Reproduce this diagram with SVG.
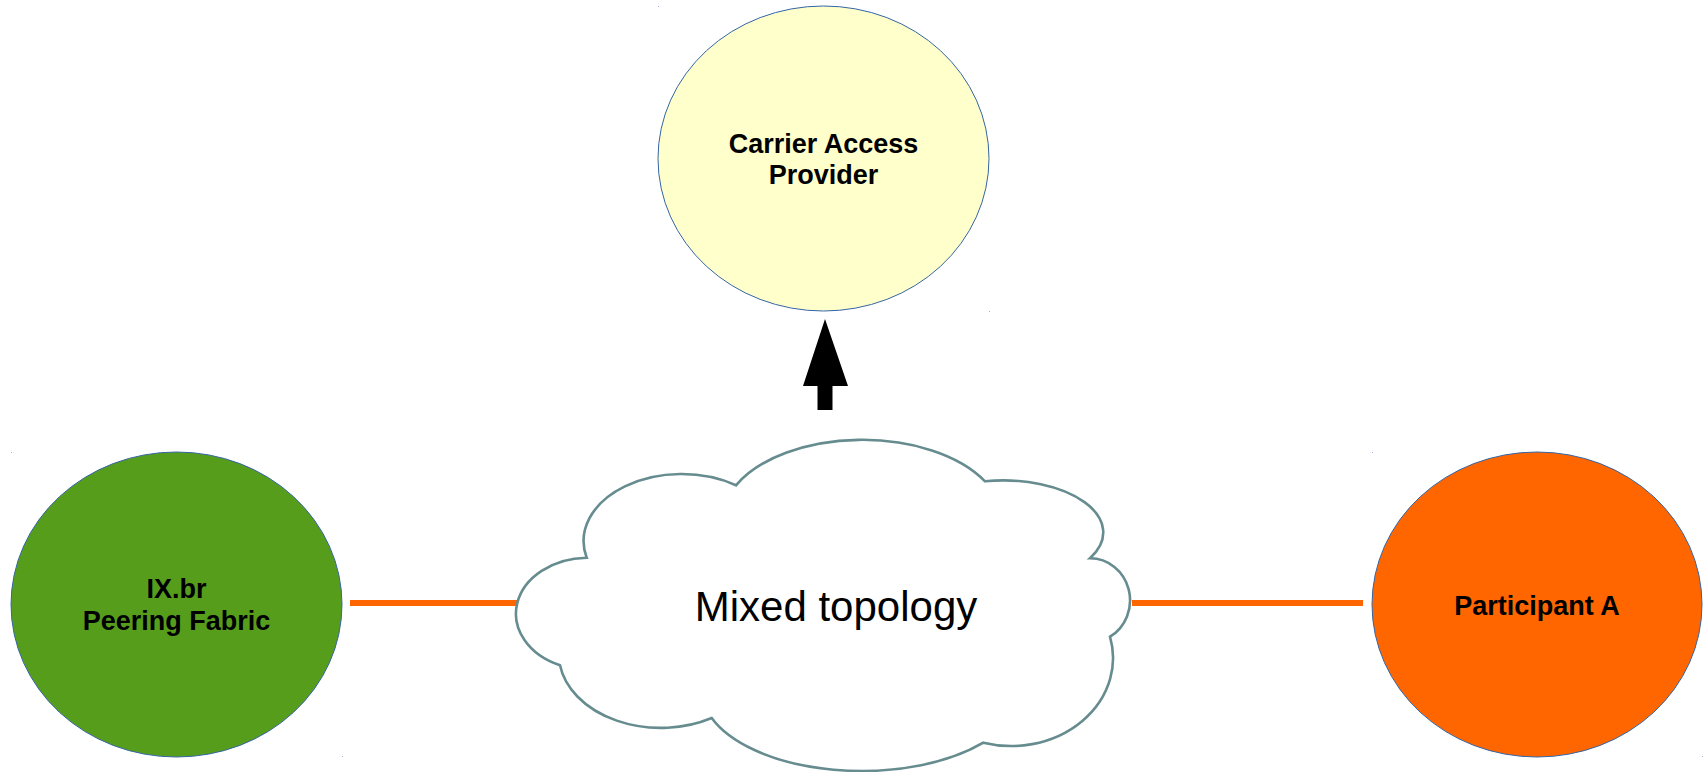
<svg xmlns="http://www.w3.org/2000/svg" width="1708" height="772" viewBox="0 0 1708 772">
<style>
.node{stroke:#3465a4;stroke-width:1}
.lbl{font-family:"Liberation Sans",Arial,sans-serif;font-weight:bold;font-size:27px;fill:#000;text-anchor:middle}
.cloudtxt{font-family:"Liberation Sans",Arial,sans-serif;font-size:42px;fill:#000;text-anchor:middle}
.link{stroke:#ff6600;stroke-width:6;fill:none}
.dot{fill:#9db4d6}
</style>
<rect width="1708" height="772" fill="#ffffff"/>
<g id="connectors">
<line class="link" x1="350" y1="603" x2="520" y2="603"/>
<line class="link" x1="1132" y1="603" x2="1363" y2="603"/>
<polygon points="825,319 848,386 832.5,386 832.5,410 817.5,410 817.5,386 803,386" fill="#000"/>
</g>
<g id="carrier">
<ellipse class="node" cx="823.5" cy="158.5" rx="165.5" ry="152.5" fill="#ffffcc"/>
<text class="lbl" x="823.5" y="153">Carrier Access</text>
<text class="lbl" x="823.5" y="184">Provider</text>
</g>
<g id="ixbr">
<ellipse class="node" cx="176.5" cy="604.5" rx="165.5" ry="152.5" fill="#579d1c"/>
<text class="lbl" x="176.5" y="598">IX.br</text>
<text class="lbl" x="176.5" y="630">Peering Fabric</text>
</g>
<g id="participant">
<ellipse class="node" cx="1537" cy="604.5" rx="165" ry="152.5" fill="#ff6600"/>
<text class="lbl" x="1537" y="615">Participant A</text>
</g>
<g id="cloud">
<path d="M586.7,557.7 A98,67 0 0 1 736,485.3 A140,80 0 0 1 985,481.3 A100,52 0 0 1 1090,558.3 A40,42 0 0 1 1110,636.7 A102,88 0 0 1 983.3,742.7 A160,81 0 0 1 711.7,718 A102,74 0 0 1 560,665.3 A72,56 0 0 1 586.7,557.7 Z" fill="#ffffff" stroke="#668c8f" stroke-width="2.6" stroke-linejoin="miter"/>
<text class="cloudtxt" x="836" y="621">Mixed topology</text>
</g>
<g id="marks">
<rect class="dot" x="658" y="6" width="1" height="1"/>
<rect class="dot" x="989" y="311" width="1" height="1"/>
<rect class="dot" x="11" y="452" width="1" height="1"/>
<rect class="dot" x="342" y="756" width="1" height="1"/>
<rect class="dot" x="1372" y="452" width="1" height="1"/>
<rect class="dot" x="1702" y="756" width="1" height="1"/>
</g>
</svg>
